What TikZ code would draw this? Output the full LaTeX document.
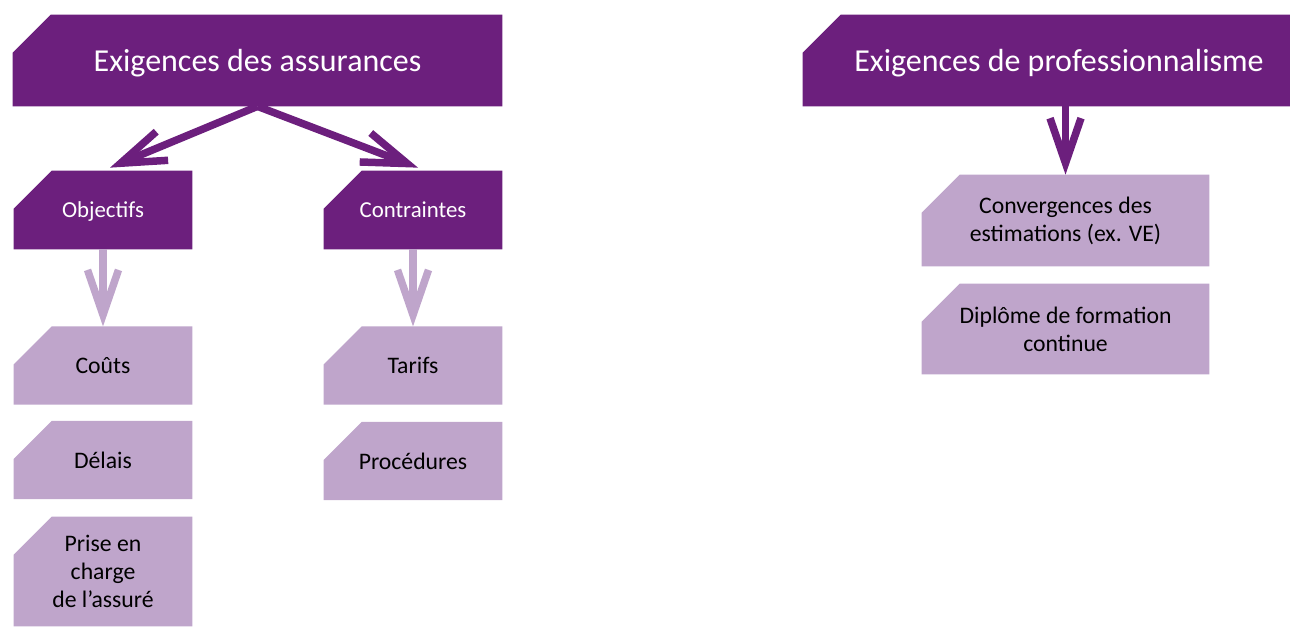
\documentclass[tikz,border=0pt]{standalone}
\usepackage{fontspec}
\setmainfont{Carlito}
\usetikzlibrary{arrows.meta, backgrounds}

\definecolor{violetfonce}{HTML}{6C1F7D}
\definecolor{lilas}{HTML}{BFA5CB}

\begin{document}
\begin{tikzpicture}[
    x=0.02cm, y=-0.02cm,
    >={Straight Barb[length=0.9cm,width=0.62cm]},
    % dark title boxes
    titre/.style={minimum width=9.78cm, minimum height=1.82cm, inner sep=0pt,
        text depth=0pt, text=white, font=\fontsize{18.2}{22}\selectfont},
    % dark sub-boxes
    cat/.style={minimum width=3.56cm, minimum height=1.56cm, inner sep=0pt,
        text depth=0pt, text=white, font=\fontsize{13}{16}\selectfont},
    % light boxes
    item/.style={minimum width=3.56cm, minimum height=1.55cm, inner sep=0pt,
        align=center, font=\fontsize{13.5}{16}\selectfont},
    fleche/.style={->, line width=0.15cm},
]
\useasboundingbox (0,0) rectangle (1290,626);

% --- Titles ---
\node[titre] (ass) at (257.5,60.5) {Exigences des assurances};
\node[titre, minimum width=10.24cm] (pro) at (1059,60.5) {Exigences de professionnalisme};

% --- Left column ---
\node[cat] (obj) at (103,210) {Objectifs};
\node[item] (cou) at (103,365.5) {Coûts};
\node[item] (del) at (103,460) {Délais};
\node[item, minimum height=2.18cm] (pri) at (103,571.5) {Prise en\\charge\\de l’assuré};

% --- Middle column ---
\node[cat] (con) at (413,210) {Contraintes};
\node[item] (tar) at (413,365.5) {Tarifs};
\node[item] (prc) at (413,461) {Procédures};

% --- Right column ---
\node[item, minimum width=5.74cm, minimum height=1.82cm] (cvg) at (1065.5,220.5)
    {Convergences des\\estimations (ex. VE)};
\node[item, minimum width=5.74cm, minimum height=1.8cm] (dip) at (1065.5,329)
    {Diplôme de formation\\continue};

% box fills with the cut top-left corner
\begin{scope}[on background layer]
  \foreach \n/\c in {ass/violetfonce, pro/violetfonce, obj/violetfonce, con/violetfonce,
                     cou/lilas, del/lilas, pri/lilas, tar/lilas, prc/lilas, cvg/lilas, dip/lilas}
    \fill[\c] ([yshift=-0.76cm]\n.north west) -- ([xshift=0.76cm]\n.north west)
        -- (\n.north east) -- (\n.south east) -- (\n.south west) -- cycle;
\end{scope}

% --- Arrows ---
\draw[fleche, violetfonce] (ass.south) -- ([xshift=0.14cm,yshift=0.06cm]obj.north);
\draw[fleche, violetfonce] (ass.south) -- ([xshift=0.1cm,yshift=0.06cm]con.north);
\draw[fleche, violetfonce] (pro.south -| cvg.north) -- (cvg.north);
\draw[fleche, lilas] (obj.south) -- (cou.north);
\draw[fleche, lilas] (con.south) -- (tar.north);

\end{tikzpicture}
\end{document}
